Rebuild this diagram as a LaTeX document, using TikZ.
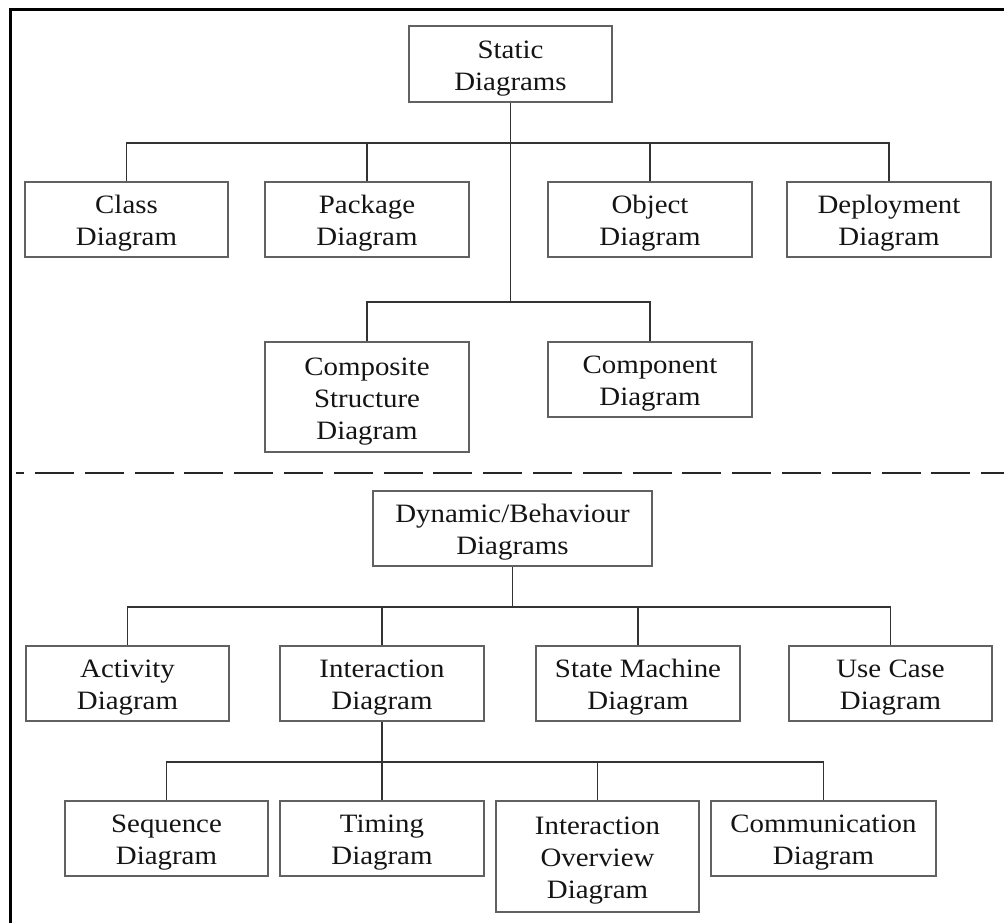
\documentclass[tikz,border=0pt]{standalone}
\usepackage{fontspec}
\setmainfont[FakeStretch=1.09]{Liberation Serif}
\newcommand\boxgap{\rule{0pt}{26pt}}
\begin{document}
\begin{tikzpicture}[x=1pt,y=-1pt,
  box/.style={draw=black!62,line width=1.8pt,rectangle,inner sep=0pt,
    minimum width=203pt,minimum height=75pt,align=center,
    font=\fontsize{26.5}{32}\selectfont,text=black!92},
  conn/.style={draw=black!80,line width=1.5pt}]
\useasboundingbox (0,0) rectangle (1004,922);
% outer frame
\draw[line width=3.5pt,black] (1010,9.3) -- (10.5,9.3) -- (10.5,930);
% static part
\node[box,minimum width=203pt,minimum height=76pt] (static) at (510.5,64) {\boxgap Static\\Diagrams};
\node[box] (class) at (126.5,219.5) {\boxgap Class\\Diagram};
\node[box,minimum width=204pt] (package) at (367,219.5) {\boxgap Package\\Diagram};
\node[box,minimum width=204pt] (object) at (650,219.5) {\boxgap Object\\Diagram};
\node[box,minimum width=204pt] (deploy) at (889,219.5) {\boxgap Deployment\\Diagram};
\node[box,minimum width=204pt,minimum height=110pt] (composite) at (367,397) {\boxgap Composite\\Structure\\Diagram};
\node[box,minimum width=204pt] (component) at (650,379.5) {\boxgap Component\\Diagram};
\draw[conn] (static.south) -- ++(0,40) coordinate (b1);
\draw[conn] (class.north) |- (b1);
\draw[conn] (package.north) |- (b1);
\draw[conn] (object.north) |- (b1);
\draw[conn] (deploy.north) |- (b1);
\draw[conn] (b1) -- ++(0,159) coordinate (b2);
\draw[conn] (composite.north) |- (b2);
\draw[conn] (component.north) |- (b2);
% separator
\coordinate (dl) at (16,473);
\coordinate (dr) at (1010,473);
\draw[black!85,line width=1.8pt,dash pattern=on 39pt off 10.8pt,dash phase=30.8pt] (dl) -- (dr);
% dynamic part
\node[box,minimum width=279pt] (dynamic) at (512.5,528.5) {\boxgap Dynamic/Behaviour\\Diagrams};
\node[box] (activity) at (127.5,683.5) {\boxgap Activity\\Diagram};
\node[box,minimum width=204pt] (interaction) at (382,683.5) {\boxgap Interaction\\Diagram};
\node[box,minimum width=204pt] (state) at (638,683.5) {\boxgap State Machine\\Diagram};
\node[box] (usecase) at (890.5,683.5) {\boxgap Use Case\\Diagram};
\node[box] (sequence) at (166.5,838.5) {\boxgap Sequence\\Diagram};
\node[box,minimum width=204pt] (timing) at (382,838.5) {\boxgap Timing\\Diagram};
\node[box,minimum height=111pt] (overview) at (597.5,856.5) {\boxgap Interaction\\Overview\\Diagram};
\node[box,minimum width=225pt] (comm) at (823.5,838.5) {\boxgap Communication\\Diagram};
\draw[conn] (dynamic.south) -- ++(0,40) coordinate (b3);
\draw[conn] (activity.north) |- (b3);
\draw[conn] (interaction.north) |- (b3);
\draw[conn] (state.north) |- (b3);
\draw[conn] (usecase.north) |- (b3);
\draw[conn] (interaction.south) -- ++(0,40) coordinate (b4);
\draw[conn] (sequence.north) |- (b4);
\draw[conn] (timing.north) |- (b4);
\draw[conn] (overview.north) |- (b4);
\draw[conn] (comm.north) |- (b4);
\end{tikzpicture}
\end{document}
